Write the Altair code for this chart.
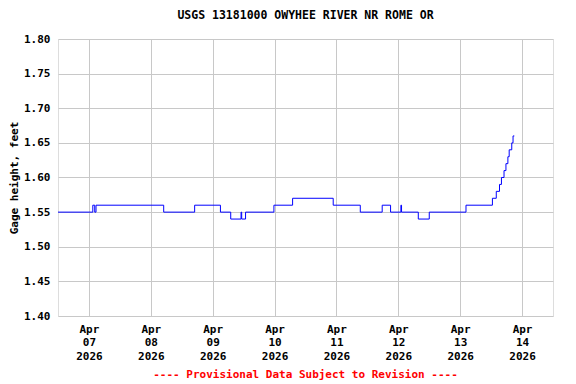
import altair as alt
import pandas as pd

# Step breakpoints (time, gage height in feet)
times = [
    "2026-04-06T12:00", "2026-04-07T01:30", "2026-04-07T02:15", "2026-04-07T02:45",
    "2026-04-08T05:00", "2026-04-08T17:00", "2026-04-09T03:00", "2026-04-09T07:00",
    "2026-04-09T11:00", "2026-04-09T11:15", "2026-04-09T12:45", "2026-04-09T23:45",
    "2026-04-10T07:00", "2026-04-10T22:45", "2026-04-11T09:15", "2026-04-11T17:45",
    "2026-04-11T21:00", "2026-04-12T01:00", "2026-04-12T01:15", "2026-04-12T07:45",
    "2026-04-12T12:00", "2026-04-13T02:15", "2026-04-13T12:30", "2026-04-13T14:00",
    "2026-04-13T15:15", "2026-04-13T16:00", "2026-04-13T17:00", "2026-04-13T17:45",
    "2026-04-13T18:30", "2026-04-13T19:00", "2026-04-13T20:00", "2026-04-13T20:30",
    "2026-04-13T21:00",
]
heights = [
    1.55, 1.56, 1.55, 1.56,
    1.55, 1.56, 1.55, 1.54,
    1.55, 1.54, 1.55, 1.56,
    1.57, 1.56, 1.55, 1.56,
    1.55, 1.56, 1.55, 1.54,
    1.55, 1.56, 1.57, 1.58,
    1.59, 1.60, 1.61, 1.62,
    1.63, 1.64, 1.65, 1.66,
    1.66,
]
tick_days = [7, 8, 9, 10, 11, 12, 13, 14]
y_ticks = [1.40, 1.45, 1.50, 1.55, 1.60, 1.65, 1.70, 1.75, 1.80]
title_text = "USGS 13181000 OWYHEE RIVER NR ROME OR"
footer_text = "---- Provisional Data Subject to Revision ----"

df = pd.DataFrame({"time": times, "height": heights})
foot = pd.DataFrame({"t": [footer_text]})

FONT = "DejaVu Sans Mono"
W, H = 495, 277

x_enc = alt.X(
    "time:T",
    scale=alt.Scale(domain=[alt.DateTime(year=2026, month=4, date=6, hours=12),
                            alt.DateTime(year=2026, month=4, date=14, hours=12)]),
    axis=alt.Axis(
        title=None,
        values=[alt.DateTime(year=2026, month=4, date=d) for d in tick_days],
        labelExpr="[timeFormat(datum.value, '%b'), timeFormat(datum.value, '%d'), timeFormat(datum.value, '%Y')]",
        labelFont=FONT, labelFontSize=11, labelFontWeight="bold", labelColor="black",
        labelLineHeight=13.5, labelBaseline="top", labelPadding=7,
        ticks=False, domain=False, grid=True, gridColor="#c8c8c8", gridWidth=1,
        labelFlush=False,
    ),
)
y_enc = alt.Y(
    "height:Q",
    scale=alt.Scale(domain=[1.40, 1.80], nice=False, zero=False),
    axis=alt.Axis(
        title="Gage height, feet", values=y_ticks, format=".2f",
        labelFont=FONT, labelFontSize=11, labelFontWeight="bold", labelColor="black",
        titleFont=FONT, titleFontSize=11, titleFontWeight="bold", titleColor="black",
        titlePadding=4, labelPadding=8,
        ticks=False, domain=False, grid=True, gridColor="#c8c8c8", gridWidth=1,
    ),
)

line = alt.Chart(df).mark_line(interpolate="step-after", color="#0000ff", strokeWidth=1).encode(
    x=x_enc, y=y_enc
)

footer = alt.Chart(foot).mark_text(
    font=FONT, fontSize=11, fontWeight="bold", color="#ff0000", clip=False,
    align="center", baseline="middle",
).encode(x=alt.value(W / 2), y=alt.value(H + 59), text="t:N")

chart = alt.layer(line, footer).properties(
    width=W, height=H,
    title=alt.Title(title_text, font=FONT, fontSize=11.5, fontWeight="bold", color="black",
                    anchor="middle", offset=12),
    autosize=alt.AutoSizeParams(type="none"),
    padding={"left": 50, "top": 31, "right": 15, "bottom": 68},
).configure_view(stroke="black", strokeWidth=1).configure(background="white")

chart.save("out.html", embed_options={"renderer": "svg", "actions": False})
